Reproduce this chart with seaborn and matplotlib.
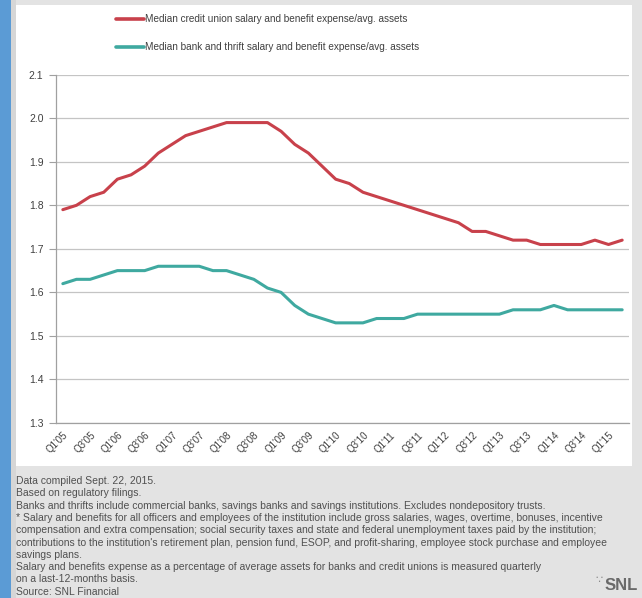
import numpy as np
import pandas as pd
import matplotlib
matplotlib.use("Agg")
import matplotlib.pyplot as plt
import seaborn as sns
from matplotlib.patches import Rectangle
from matplotlib.lines import Line2D

# ---------------- data ----------------
quarters = ["Q1'05", "Q2'05", "Q3'05", "Q4'05", "Q1'06", "Q2'06", "Q3'06", "Q4'06",
            "Q1'07", "Q2'07", "Q3'07", "Q4'07", "Q1'08", "Q2'08", "Q3'08", "Q4'08",
            "Q1'09", "Q2'09", "Q3'09", "Q4'09", "Q1'10", "Q2'10", "Q3'10", "Q4'10",
            "Q1'11", "Q2'11", "Q3'11", "Q4'11", "Q1'12", "Q2'12", "Q3'12", "Q4'12",
            "Q1'13", "Q2'13", "Q3'13", "Q4'13", "Q1'14", "Q2'14", "Q3'14", "Q4'14",
            "Q1'15", "Q2'15"]

credit_union = [1.79, 1.80, 1.82, 1.83, 1.86, 1.87, 1.89, 1.92, 1.94, 1.96,
                1.97, 1.98, 1.99, 1.99, 1.99, 1.99, 1.97, 1.94, 1.92, 1.89,
                1.86, 1.85, 1.83, 1.82, 1.81, 1.80, 1.79, 1.78, 1.77, 1.76,
                1.74, 1.74, 1.73, 1.72, 1.72, 1.71, 1.71, 1.71, 1.71, 1.72,
                1.71, 1.72]

bank_thrift = [1.62, 1.63, 1.63, 1.64, 1.65, 1.65, 1.65, 1.66, 1.66, 1.66,
               1.66, 1.65, 1.65, 1.64, 1.63, 1.61, 1.60, 1.57, 1.55, 1.54,
               1.53, 1.53, 1.53, 1.54, 1.54, 1.54, 1.55, 1.55, 1.55, 1.55,
               1.55, 1.55, 1.55, 1.56, 1.56, 1.56, 1.57, 1.56, 1.56, 1.56,
               1.56, 1.56]

series_names = ["Median credit union salary and benefit expense/avg. assets",
                "Median bank and thrift salary and benefit expense/avg. assets"]

y_ticks = [1.3, 1.4, 1.5, 1.6, 1.7, 1.8, 1.9, 2.0, 2.1]

footnotes = [
    "Data compiled Sept. 22, 2015.",
    "Based on regulatory filings.",
    "Banks and thrifts include commercial banks, savings banks and savings institutions. Excludes nondepository trusts.",
    "* Salary and benefits for all officers and employees of the institution include gross salaries, wages, overtime, bonuses, incentive",
    "compensation and extra compensation; social security taxes and state and federal unemployment taxes paid by the institution;",
    "contributions to the institution's retirement plan, pension fund, ESOP, and profit-sharing, employee stock purchase and employee",
    "savings plans.",
    "Salary and benefits expense as a percentage of average assets for banks and credit unions is measured quarterly",
    "on a last-12-months basis.",
    "Source: SNL Financial",
]

# ---------------- styling ----------------
sns.set_style("white")
plt.rcParams["font.family"] = ["Liberation Sans", "DejaVu Sans"]

W, H = 642, 598
RED = "#c8414b"
TEAL = "#3fa9a0"
TXT = "#404040"


def fx(px):
    return px / W


def fy(py):
    return 1 - py / H


fig = plt.figure(figsize=(W / 100, H / 100), dpi=100, facecolor="#e3e3e3")

# blue stripe, light gutter and white panel (behind everything)
fig.patches.append(Rectangle((0, 0), fx(11), 1, transform=fig.transFigure,
                             facecolor="#5b9bd5", edgecolor="none", zorder=-10))
fig.patches.append(Rectangle((fx(11), 0), fx(5), 1, transform=fig.transFigure,
                             facecolor="#d6d6d6", edgecolor="none", zorder=-10))
fig.patches.append(Rectangle((fx(16), fy(466)), fx(616), (466 - 5) / H,
                             transform=fig.transFigure, facecolor="white",
                             edgecolor="none", zorder=-9))

ax = fig.add_axes([fx(56), fy(423), fx(573), (423 - 74.7) / H])
ax.set_zorder(1)
ax.patch.set_alpha(0)

df = pd.DataFrame({
    "idx": list(range(len(quarters))) * 2,
    "value": credit_union + bank_thrift,
    "series": [series_names[0]] * len(quarters) + [series_names[1]] * len(quarters),
})

sns.lineplot(data=df, x="idx", y="value", hue="series", hue_order=series_names,
             palette=[RED, TEAL], linewidth=2.2, ax=ax, legend=False)

ax.set_xlim(-0.5, len(quarters) - 0.5)
ax.set_ylim(1.3, 2.1)
ax.set_yticks(y_ticks)
ax.set_yticklabels([f"{v:.1f}" for v in y_ticks], fontsize=7.5, color=TXT)
ax.yaxis.grid(True, color="#c4c4c4", linewidth=0.9)
ax.xaxis.grid(False)
ax.set_axisbelow(True)

major = list(range(0, len(quarters), 2))
ax.set_xticks(major)
ax.set_xticklabels([quarters[i] for i in major], rotation=45, ha="right",
                   rotation_mode="anchor", fontsize=7, color=TXT)
ax.set_xticks(np.arange(-0.5, len(quarters), 1), minor=True)
ax.tick_params(axis="x", which="major", length=0, pad=5)
ax.tick_params(axis="x", which="minor", length=3.5, direction="inout",
               color="#a0a0a0", width=0.7)
ax.tick_params(axis="y", which="major", length=5, color="#a0a0a0", width=0.8,
               pad=4, left=True)

for side in ["top", "right"]:
    ax.spines[side].set_visible(False)
for side in ["left", "bottom"]:
    ax.spines[side].set_color("#a0a0a0")
    ax.spines[side].set_linewidth(0.9)

ax.set_xlabel("")
ax.set_ylabel("")

# legend
handles = [Line2D([], [], color=RED, linewidth=2.6),
           Line2D([], [], color=TEAL, linewidth=2.6)]
fig.legend(handles, series_names, loc="upper left",
           bbox_to_anchor=(fx(116), fy(14)), frameon=False, fontsize=7.2,
           handlelength=2.8, handletextpad=0.1, labelspacing=1.8,
           borderpad=0, borderaxespad=0, labelcolor=TXT)

# footnotes
for k, line in enumerate(footnotes):
    fig.text(fx(16), fy(481 + 12.3 * k), line, fontsize=7.5, color="#505050",
             ha="left", va="center")

# SNL mark
fig.text(fx(638), fy(585), "SNL", fontsize=12, fontweight="bold",
         color="#6a6a6a", ha="right", va="center")
fig.text(fx(603), fy(580), "\u2235", fontsize=8, color="#8a8a8a",
         ha="right", va="center", family=["DejaVu Sans"])

fig.savefig("out.png", dpi=100, facecolor=fig.get_facecolor())
